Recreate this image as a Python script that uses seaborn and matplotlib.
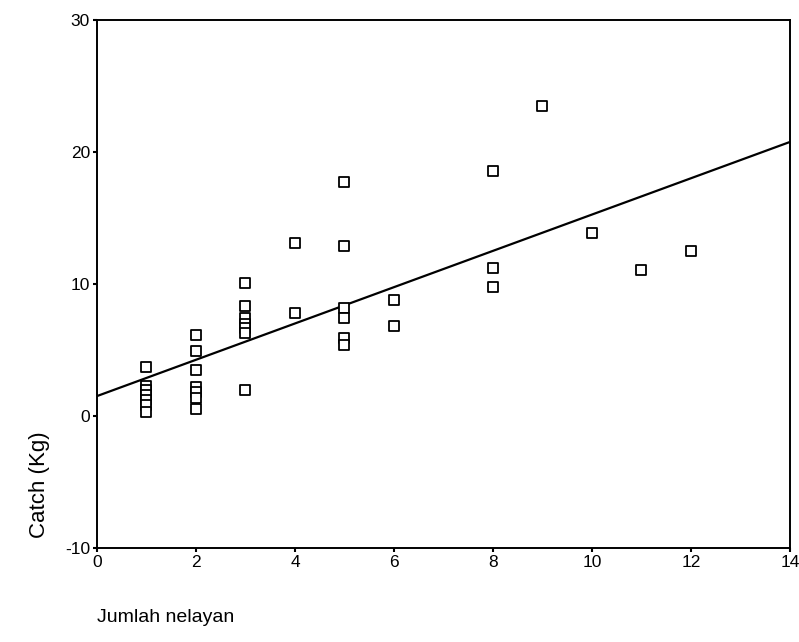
import numpy as np
import pandas as pd
import matplotlib
matplotlib.use('Agg')
import matplotlib.pyplot as plt
import seaborn as sns

# Values
nelayan = [1, 1, 1, 1, 1, 1, 1,
           2, 2, 2, 2, 2, 2, 2,
           3, 3, 3, 3, 3, 3, 3,
           4, 4,
           5, 5, 5, 5, 5, 5,
           6, 6,
           8, 8, 8,
           9, 10, 11, 12]
catch_kg = [3.7, 2.3, 2.0, 1.6, 1.2, 0.8, 0.3,
            6.1, 4.9, 3.5, 2.2, 1.8, 1.4, 0.5,
            10.1, 8.3, 7.4, 7.0, 6.7, 6.3, 2.0,
            13.1, 7.8,
            17.7, 12.9, 8.2, 7.4, 5.9, 5.4,
            8.8, 6.8,
            18.6, 11.2, 9.8,
            23.5, 13.9, 11.1, 12.5]
x_ticks = [0, 2, 4, 6, 8, 10, 12, 14]
y_ticks = [-10, 0, 10, 20, 30]

data = pd.DataFrame({'Jumlah nelayan': nelayan, 'Catch (Kg)': catch_kg})

sns.set_style('white')
plt.rcParams['font.family'] = ['Liberation Sans', 'DejaVu Sans']
plt.rcParams['axes.unicode_minus'] = False

fig = plt.figure(figsize=(7.99, 6.42), dpi=100)
ax = fig.add_axes([0.1214, 0.1464, 0.8673, 0.8224])
ax.set_xlim(0, 14)
ax.set_ylim(-10, 30)

# regression line over the whole x range
sns.regplot(data=data, x='Jumlah nelayan', y='Catch (Kg)', ax=ax, scatter=False,
            ci=None, truncate=False, color='black', line_kws={'linewidth': 1.6})
sns.scatterplot(data=data, x='Jumlah nelayan', y='Catch (Kg)', ax=ax, marker='s',
                s=42, facecolor='white', edgecolor='black', linewidth=1.3, zorder=3)

ax.set_xlim(0, 14)
ax.set_ylim(-10, 30)
ax.set_xticks(x_ticks)
ax.set_yticks(y_ticks)
ax.tick_params(direction='out', length=3, width=1.5, color='black', labelcolor='black',
               labelsize=12.5, pad=2, left=True, bottom=True)
for sp in ax.spines.values():
    sp.set_color('black')
    sp.set_linewidth(1.4)

ax.set_xlabel('')
ax.set_ylabel('')
fig.text(0.1214, 0.038, 'Jumlah nelayan', fontsize=14, color='black', ha='left', va='center')
fig.text(0.05, 0.245, 'Catch (Kg)', fontsize=16, color='black', rotation=90,
         ha='center', va='center')

fig.savefig('out.png', dpi=100)
